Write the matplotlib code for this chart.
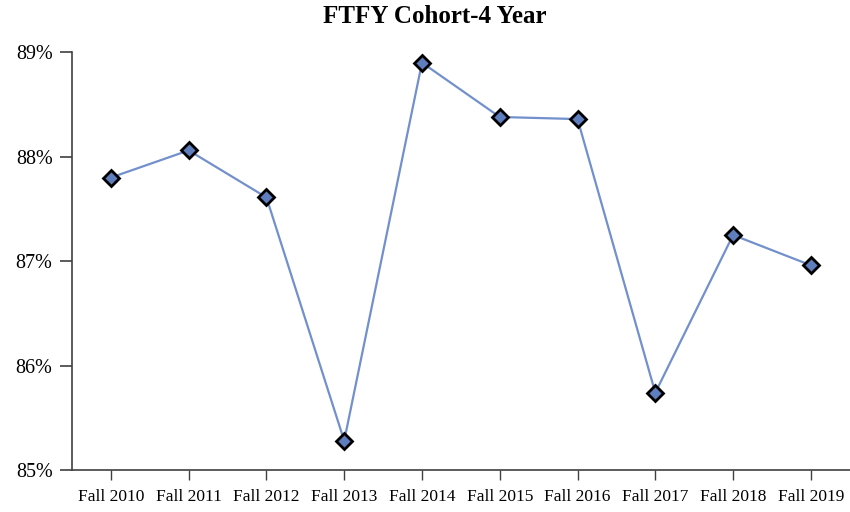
import matplotlib
matplotlib.use('Agg')
import matplotlib.pyplot as plt
from matplotlib.ticker import FuncFormatter

# data
terms = ['Fall 2010', 'Fall 2011', 'Fall 2012', 'Fall 2013', 'Fall 2014',
         'Fall 2015', 'Fall 2016', 'Fall 2017', 'Fall 2018', 'Fall 2019']
rates = [87.80, 88.06, 87.61, 85.28, 88.90, 88.38, 88.36, 85.74, 87.25, 86.96]
y_ticks = [85, 86, 87, 88, 89]

plt.rcParams['font.family'] = ['Liberation Serif', 'DejaVu Serif']

fig = plt.figure(figsize=(8.5, 5.12), dpi=100)
ax = fig.add_axes([0.0847, 0.082, 0.915, 0.816])

x = list(range(len(terms)))
ax.plot(x, rates, color='#7290CC', lw=1.6, marker='D', markersize=8.5,
        markerfacecolor='#5F7EBE', markeredgecolor='black', markeredgewidth=2,
        zorder=3)

ax.set_xlim(-0.5, len(terms) - 0.5)
ax.set_ylim(85, 89)
ax.set_xticks(x)
ax.set_xticklabels(terms, fontsize=12.5)
ax.set_yticks(y_ticks)
ax.yaxis.set_major_formatter(FuncFormatter(lambda v, p: f'{v:.0f}%'))
ax.tick_params(axis='y', labelsize=14.5, length=9, width=1.2, color='#404040', pad=5)
ax.tick_params(axis='x', length=7.5, width=1.0, color='#404040', pad=6)

for s in ['top', 'right']:
    ax.spines[s].set_visible(False)
for s in ['left', 'bottom']:
    ax.spines[s].set_color('#404040')
    ax.spines[s].set_linewidth(1.2)

fig.suptitle('FTFY Cohort-4 Year', x=0.512, y=0.99, fontsize=18, fontweight='bold')

fig.savefig('out.png', dpi=100)
